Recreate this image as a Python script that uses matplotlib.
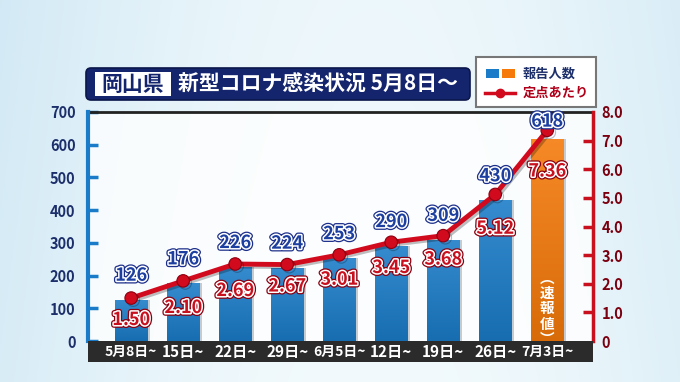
import matplotlib
matplotlib.use("Agg")
import matplotlib.pyplot as plt
import numpy as np
from matplotlib.patches import FancyBboxPatch, Rectangle
import matplotlib.patheffects as pe
from matplotlib.lines import Line2D

plt.rcParams['font.family'] = ['Noto Sans CJK JP', 'DejaVu Sans']

categories = ["5月8日~", "15日~", "22日~", "29日~", "6月5日~", "12日~", "19日~", "26日~", "7月3日~"]
counts = [126, 176, 226, 224, 253, 290, 309, 430, 618]
rates = [1.50, 2.10, 2.69, 2.67, 3.01, 3.45, 3.68, 5.12, 7.36]
left_ticks = [0, 100, 200, 300, 400, 500, 600, 700]
right_ticks = [0, 1, 2, 3, 4, 5, 6, 7, 8]
title_pref = "岡山県"
title_main = "新型コロナ感染状況 5月8日〜"
provisional = "︵\n速\n報\n値\n︶"

W, H = 680, 382
fig = plt.figure(figsize=(W/100, H/100), dpi=100)

# background gradient
bg = fig.add_axes([0, 0, 1, 1], zorder=-10)
xx = np.linspace(0, 1, 256)
yy = np.linspace(0, 1, 128)
X, Y = np.meshgrid(xx, yy)
t = np.clip(0.55 + 0.45*np.cos((X - 0.55)*3.0) - 0.1*Y, 0, 1)
c1 = np.array([0.74, 0.87, 0.94])
c2 = np.array([0.95, 0.98, 0.99])
img = c1[None, None, :]*(1-t[..., None]) + c2[None, None, :]*t[..., None]
bg.imshow(img, extent=[0, 1, 0, 1], aspect='auto', origin='lower')
bg.set_xlim(0, 1); bg.set_ylim(0, 1)
bg.axis('off')

# main axes
x0, x1 = 88, 593
y_top, y_bot = 112, 341
ax = fig.add_axes([x0/W, 1 - y_bot/H, (x1-x0)/W, (y_bot-y_top)/H])
ax.set_facecolor((1, 1, 1, 0.8))
n = len(categories)
xs = np.arange(n)
YMAX_L, YMAX_R = 700, 8
ax.set_xlim(-0.83, n - 1 + 0.88)
ax.set_ylim(0, YMAX_L)

bw = 0.63
colors = ['#1a7cc8'] * (n - 1) + ['#f57a0a']
ax.bar(xs + 0.05, counts, width=bw, color='#9aa4ad', alpha=0.55, zorder=1)
bars = ax.bar(xs, counts, width=bw, color=colors, zorder=2)
grad = np.linspace(0, 1, 100).reshape(-1, 1)
gcmap = matplotlib.colors.LinearSegmentedColormap.from_list('g', [(0, 0, 0, 0.12), (1, 1, 1, 0.12)])
for b in bars:
    bx, by, bwid, bh = b.get_x(), b.get_y(), b.get_width(), b.get_height()
    ax.imshow(grad, extent=[bx, bx + bwid, by, by + bh], aspect='auto', origin='lower',
              cmap=gcmap, zorder=3)
ax.set_xlim(-0.83, n - 1 + 0.88)
ax.set_ylim(0, YMAX_L)

for sp in ['left', 'right', 'bottom']:
    ax.spines[sp].set_visible(False)
ax.spines['top'].set_color('#222222')
ax.spines['top'].set_linewidth(2)

ax.set_yticks(left_ticks)
ax.set_yticklabels([str(v) for v in left_ticks], fontsize=10.5, fontweight='bold', color='#1c2f6b')
ax.tick_params(axis='y', direction='in', length=7, width=2.5, color='#1a7cc8', pad=9)
ax.yaxis.get_major_ticks()[0].tick1line.set_visible(False)
ax.set_xticks([])
ax.axvline(-0.83, color='#1a7cc8', lw=3, zorder=5, clip_on=False)

ax2 = ax.twinx()
ax2.set_ylim(0, YMAX_R)
ax2.set_xlim(ax.get_xlim())
for sp in ['left', 'top', 'bottom']:
    ax2.spines[sp].set_visible(False)
ax2.spines['right'].set_color('#c8101e')
ax2.spines['right'].set_linewidth(2.5)
ax2.set_yticks(right_ticks)
ax2.set_yticklabels(['0'] + [f"{v:.1f}" for v in right_ticks[1:]], fontsize=10.5, fontweight='bold', color='#7a0010')
ax2.tick_params(axis='y', direction='in', length=7, width=2.5, color='#c8101e', pad=6)
ax2.yaxis.get_major_ticks()[0].tick2line.set_visible(False)
ax2.yaxis.get_major_ticks()[-1].tick2line.set_visible(False)

ax2.plot(xs, rates, color='#d20a1e', lw=3.5, marker='o', markersize=9,
         markerfacecolor='#d20a1e', markeredgecolor='#8a0010', markeredgewidth=0.8, zorder=6,
         path_effects=[pe.SimpleLineShadow(offset=(1.5, -1.5), alpha=0.25), pe.Normal()])

cnt_pe = [pe.Stroke(linewidth=4, foreground='#1c2f8a'), pe.Stroke(linewidth=2.2, foreground='white'), pe.Normal()]
rate_pe = [pe.Stroke(linewidth=4, foreground='#8a0010'), pe.Stroke(linewidth=2.2, foreground='white'), pe.Normal()]
scale = YMAX_R / YMAX_L
for i in range(n):
    yl = min(counts[i] + 75, 672) * scale
    ax2.text(xs[i], yl, str(counts[i]), ha='center', va='center', fontsize=13,
             fontweight='bold', color='#1c3fa0', path_effects=cnt_pe, zorder=8)
    rise = max(0.0, rates[i] - rates[i-1]) if i > 0 else 0.0
    ax2.text(xs[i], rates[i] - (0.75 + 0.3*rise), f"{rates[i]:.2f}", ha='center', va='center', fontsize=13,
             fontweight='bold', color='#c8101e', path_effects=rate_pe, zorder=8)
ax.text(xs[-1], 100, provisional, ha='center', va='center', fontsize=10.5, fontweight='bold',
        color='white', linespacing=0.95, zorder=8)

# x label band
band = fig.add_axes([x0/W, 1 - 362/H, (x1-x0)/W, 21/H])
band.set_xlim(ax.get_xlim()); band.set_ylim(0, 1)
band.set_facecolor('#2b2b2b')
for sp in band.spines.values():
    sp.set_visible(False)
band.set_xticks([]); band.set_yticks([])
for i, lab in enumerate(categories):
    band.text(xs[i], 0.5, lab, ha='center', va='center', color='white',
              fontsize=10 if '月' in lab else 11, fontweight='bold')

# title box
tax = fig.add_axes([0, 0, 1, 1], zorder=20)
tax.set_xlim(0, W); tax.set_ylim(H, 0); tax.axis('off')
tax.add_patch(FancyBboxPatch((86, 68), 384, 32, boxstyle="round,pad=0,rounding_size=5",
                             fc='#14256e', ec='#0b164a', lw=1.2))
tax.add_patch(Rectangle((95, 72), 76, 24, fc='white', ec='none'))
tax.text(133, 84, title_pref, ha='center', va='center', fontsize=15, fontweight='bold', color='#14256e')
tax.text(178, 84, title_main, ha='left', va='center', fontsize=15, fontweight='bold', color='white')

# legend box
tax.add_patch(Rectangle((476, 57), 120, 50, fc='white', ec='#777777', lw=1.5))
tax.add_patch(Rectangle((486, 69), 13, 9, fc='#1a7cc8', ec='none'))
tax.add_patch(Rectangle((502, 69), 13, 9, fc='#f57a0a', ec='none'))
tax.text(523, 73.5, "報告人数", ha='left', va='center', fontsize=9.5, fontweight='bold', color='#1c2f6b')
tax.add_line(Line2D([485, 515], [93, 93], color='#d20a1e', lw=2.5))
tax.plot([500], [93], 'o', color='#d20a1e', markersize=6)
tax.text(523, 93, "定点あたり", ha='left', va='center', fontsize=9.5, fontweight='bold', color='#b0001a')

fig.savefig('out.png', dpi=100)
